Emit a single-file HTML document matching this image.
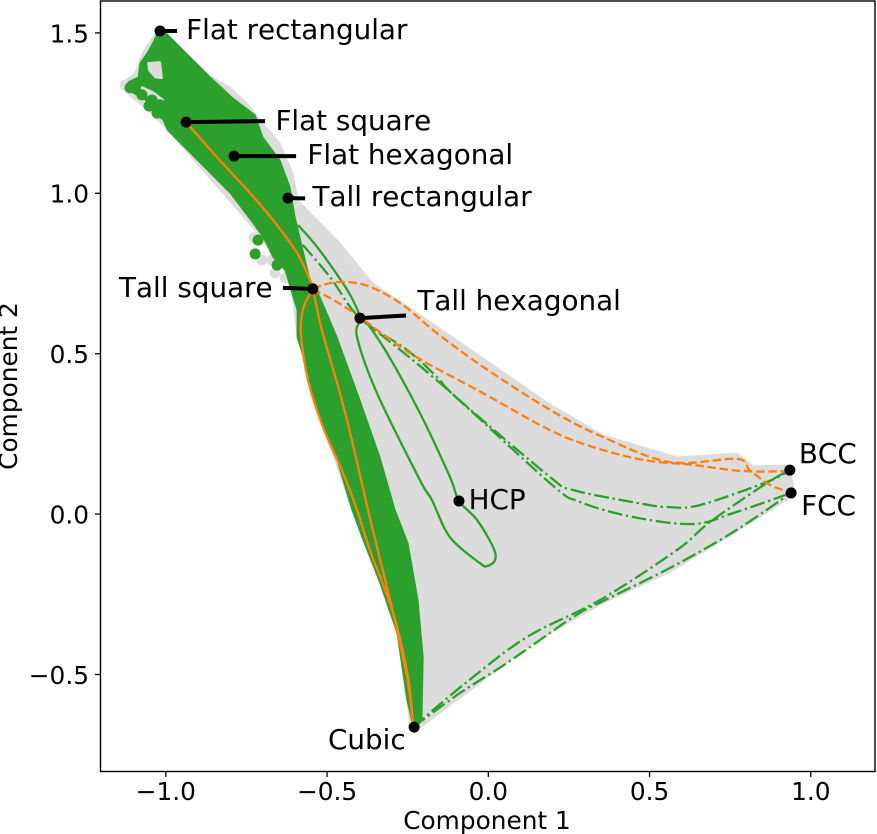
<!DOCTYPE html>
<html lang="en">
<head>
<meta charset="utf-8">
<title>Component chart</title>
<style>
html,body{margin:0;padding:0;background:#fff;}
svg{display:block;}
text{font-family:"DejaVu Sans","Liberation Sans",sans-serif;fill:#000;font-kerning:none;}
</style>
</head>
<body>
<svg id="chart" xmlns="http://www.w3.org/2000/svg" width="877" height="834" viewBox="0 0 877 834">
<rect x="0" y="0" width="877" height="834" fill="#fff"/>
<g id="plot"></g>
<rect x="100.5" y="1" width="774.5" height="770.5" fill="none" stroke="#000" stroke-width="1.4"/>
<g id="axes"></g>
<text x="487" y="829" font-size="24.8" text-anchor="middle">Component 1</text>
<text transform="translate(17,386) rotate(-90)" font-size="24.8" text-anchor="middle">Component 2</text>
</svg>
<script>
const xTicks = [-1.0, -0.5, 0.0, 0.5, 1.0];
const xTickLabels = ['\u22121.0', '\u22120.5', '0.0', '0.5', '1.0'];
const yTicks = [-0.5, 0.0, 0.5, 1.0, 1.5];
const yTickLabels = ['\u22120.5', '0.0', '0.5', '1.0', '1.5'];

const grayX = [-1.018,-0.863,-0.801,-0.749,-0.699,-0.646,-0.606,-0.590,-0.460,-0.358,-0.252,-0.016,0.191,0.356,0.585,0.771,0.821,0.935,0.951,0.759,0.563,0.356,0.139,-0.066,-0.212,-0.243,-0.283,-0.336,-0.423,-0.513,-0.593,-0.609,-0.646,-0.730,-0.995,-1.050,-1.096,-1.123,-1.133,-1.096,-1.071,-1.043];
const grayY = [1.515,1.366,1.331,1.282,1.219,1.157,1.063,0.979,0.845,0.720,0.649,0.487,0.343,0.247,0.178,0.190,0.150,0.153,0.060,-0.062,-0.181,-0.278,-0.402,-0.558,-0.667,-0.657,-0.371,-0.215,0.013,0.272,0.552,0.689,0.786,0.892,1.197,1.253,1.291,1.316,1.347,1.375,1.440,1.484];
const greenX = [-1.018,-0.863,-0.792,-0.723,-0.699,-0.646,-0.615,-0.599,-0.553,-0.522,-0.469,-0.398,-0.336,-0.289,-0.249,-0.218,-0.202,-0.206,-0.233,-0.252,-0.283,-0.336,-0.392,-0.423,-0.469,-0.513,-0.544,-0.568,-0.593,-0.593,-0.609,-0.630,-0.668,-0.699,-0.730,-0.801,-0.995,-1.008,-1.040,-1.064,-1.102,-1.120,-1.117,-1.086,-1.080,-1.058,-1.040];
const greenY = [1.519,1.363,1.297,1.244,1.175,1.103,1.020,0.926,0.730,0.677,0.552,0.356,0.178,0.013,-0.090,-0.268,-0.446,-0.642,-0.664,-0.580,-0.371,-0.215,-0.072,0.013,0.169,0.272,0.365,0.471,0.552,0.636,0.689,0.761,0.801,0.864,0.907,1.001,1.197,1.228,1.253,1.291,1.313,1.329,1.347,1.362,1.406,1.437,1.469];
const holeAX = [-1.055,-1.018,-1.012,-1.033,-1.052];
const holeAY = [1.406,1.409,1.359,1.362,1.384];
const holeBX = [-1.074,-1.040,-1.008,-1.018,-1.074];
const holeBY = [1.331,1.315,1.291,1.282,1.313];

const grayDotX = [-1.126,-0.726,-0.702,-0.671,-0.661,-0.630];
const grayDotY = [1.338,0.861,0.792,0.792,0.752,0.736];
const greenDotX = [-1.111,-1.074,-1.043,-1.052,-1.018,-1.027,-0.714,-0.723,-0.655];
const greenDotY = [1.329,1.307,1.291,1.272,1.276,1.250,0.854,0.811,0.776];

const orangeSolidAX = [-0.937,-0.847,-0.739,-0.668,-0.593,-0.553,-0.544,-0.516,-0.460,-0.423,-0.373,-0.345,-0.295,-0.252,-0.233];
const orangeSolidAY = [1.222,1.119,1.001,0.917,0.814,0.730,0.702,0.574,0.377,0.231,0.013,-0.103,-0.309,-0.508,-0.657];
const orangeSolidBX = [-0.544,-0.568,-0.578,-0.581,-0.559,-0.513,-0.454,-0.407,-0.367,-0.295,-0.249,-0.233];
const orangeSolidBY = [0.702,0.658,0.621,0.558,0.418,0.272,0.137,0.013,-0.112,-0.309,-0.508,-0.657];
const orangeDashAX = [-0.544,-0.491,-0.429,-0.358,-0.265,-0.159,-0.016,0.191,0.356,0.563,0.771,0.811,0.873,0.926,0.939];
const orangeDashAY = [0.702,0.720,0.723,0.705,0.652,0.564,0.459,0.325,0.240,0.162,0.172,0.137,0.091,0.072,0.066];
const orangeDashBX = [-0.544,-0.429,-0.243,-0.016,0.191,0.325,0.480,0.635,0.789,0.935];
const orangeDashBY = [0.702,0.636,0.502,0.377,0.262,0.209,0.169,0.153,0.134,0.134];
const greenSolidX = [-0.590,-0.531,-0.451,-0.420,-0.398,-0.407,-0.345,-0.212,-0.175,-0.119,-0.026,-0.004,0.021,0.015,-0.035,-0.091,-0.119,-0.212,-0.314,-0.376];
const greenSolidY = [0.901,0.833,0.720,0.667,0.611,0.552,0.377,0.106,0.044,-0.072,-0.153,-0.162,-0.143,-0.103,-0.018,0.041,0.116,0.315,0.502,0.596];
const greenDotDashAX = [-0.575,-0.491,-0.398,-0.252,-0.159,-0.097,0.191,0.263,0.461,0.554,0.656,0.864,0.935];
const greenDotDashAY = [0.839,0.739,0.611,0.512,0.427,0.362,0.116,0.075,0.035,0.022,0.028,0.100,0.137];
const greenDotDashBX = [-0.398,-0.150,0.191,0.284,0.449,0.635,0.759,0.939];
const greenDotDashBY = [0.611,0.409,0.097,0.038,-0.009,-0.031,0.003,0.066];
const greenDotDashCX = [-0.233,-0.066,0.120,0.346,0.585,0.687,0.864,0.935];
const greenDotDashCY = [-0.664,-0.523,-0.383,-0.268,-0.112,-0.025,0.097,0.137];
const greenDotDashDX = [-0.233,-0.088,0.058,0.263,0.362,0.563,0.759,0.939];
const greenDotDashDY = [-0.664,-0.558,-0.464,-0.321,-0.268,-0.168,-0.056,0.066];

const landmarkNames = ['Flat rectangular','Flat square','Flat hexagonal','Tall rectangular','Tall square','Tall hexagonal','HCP','BCC','FCC','Cubic'];
const landmarkX = [-1.018,-0.937,-0.788,-0.621,-0.544,-0.398,-0.091,0.935,0.939,-0.230];
const landmarkY = [1.506,1.222,1.116,0.985,0.702,0.611,0.041,0.137,0.066,-0.664];
const leaderX = [-0.965,-0.692,-0.596,-0.568,-0.637,-0.255,-0.091,0.935,0.939,-0.230];
const leaderY = [1.506,1.225,1.116,0.984,0.705,0.619,0.041,0.137,0.066,-0.664];
const labelX = [-0.937,-0.660,-0.561,-0.545,-1.145,-0.220,-0.061,0.963,0.970,-0.497];
const labelY = [1.481,1.197,1.091,0.960,0.677,0.636,0.016,0.159,-0.003,-0.733];

const NS = 'http://www.w3.org/2000/svg';
const sx = v => 488.3 + v * 322.5;
const sy = v => 514.1 - v * 320.8;
const plot = document.getElementById('plot');
const axes = document.getElementById('axes');
const pts = (xs, ys) => xs.map((x, i) => sx(x).toFixed(1) + ',' + sy(ys[i]).toFixed(1)).join(' ');

function smoothPath(xs, ys) {
  const p = xs.map((x, i) => [sx(x), sy(ys[i])]);
  let d = 'M' + p[0][0].toFixed(1) + ' ' + p[0][1].toFixed(1);
  for (let i = 0; i < p.length - 1; i++) {
    const a = p[Math.max(i - 1, 0)], b = p[i], c = p[i + 1], e = p[Math.min(i + 2, p.length - 1)];
    const c1x = b[0] + (c[0] - a[0]) / 6, c1y = b[1] + (c[1] - a[1]) / 6;
    const c2x = c[0] - (e[0] - b[0]) / 6, c2y = c[1] - (e[1] - b[1]) / 6;
    d += 'C' + c1x.toFixed(1) + ' ' + c1y.toFixed(1) + ' ' + c2x.toFixed(1) + ' ' + c2y.toFixed(1) + ' ' + c[0].toFixed(1) + ' ' + c[1].toFixed(1);
  }
  return d;
}

function addShape(tag, parent, attrs) {
  const el = document.createElementNS(NS, tag);
  for (const k in attrs) el.setAttribute(k, attrs[k]);
  parent.appendChild(el);
  return el;
}

let el;
el = addShape('polygon', plot, {points: pts(grayX, grayY), fill: '#dcdcdc', stroke: '#dcdcdc', 'stroke-width': 1, 'stroke-linejoin': 'round'});


grayDotX.forEach((x, i) => {
  const dot = addShape('circle', plot, {cx: sx(x), cy: sy(grayDotY[i]), r: 5.5, fill: '#dcdcdc'});
  
  
});
el = addShape('polygon', plot, {points: pts(greenX, greenY), fill: '#2ca02c', stroke: '#2ca02c', 'stroke-width': 1, 'stroke-linejoin': 'round'});


el = addShape('polygon', plot, {points: pts(holeAX, holeAY), fill: '#dcdcdc', stroke: '#dcdcdc', 'stroke-width': 2, 'stroke-linejoin': 'round'});


el = addShape('polygon', plot, {points: pts(holeBX, holeBY), fill: '#dcdcdc', stroke: '#dcdcdc', 'stroke-width': 2, 'stroke-linejoin': 'round'});


greenDotX.forEach((x, i) => {
  const dot = addShape('circle', plot, {cx: sx(x), cy: sy(greenDotY[i]), r: 5.5, fill: '#2ca02c'});
  
  
});

const DASH = '8.5 3.7';
const DOTDASH = '14.7 3.7 2.3 3.7';
function addLine(xs, ys, color, dash) {
  const attrs = {d: smoothPath(xs, ys), fill: 'none', stroke: color, 'stroke-width': 2.3, 'stroke-linejoin': 'round'};
  if (dash) attrs['stroke-dasharray'] = dash;
  return addShape('path', plot, attrs);
}
el = addLine(greenSolidX, greenSolidY, '#2ca02c');


el = addLine(greenDotDashAX, greenDotDashAY, '#2ca02c', DOTDASH);


el = addLine(greenDotDashBX, greenDotDashBY, '#2ca02c', DOTDASH);


el = addLine(greenDotDashCX, greenDotDashCY, '#2ca02c', DOTDASH);


el = addLine(greenDotDashDX, greenDotDashDY, '#2ca02c', DOTDASH);


el = addLine(orangeSolidAX, orangeSolidAY, '#ff7f0e');


el = addLine(orangeSolidBX, orangeSolidBY, '#ff7f0e');


el = addLine(orangeDashAX, orangeDashAY, '#ff7f0e', DASH);


el = addLine(orangeDashBX, orangeDashBY, '#ff7f0e', DASH);



landmarkNames.forEach((name, i) => {
  const leader = addShape('line', plot, {x1: sx(landmarkX[i]), y1: sy(landmarkY[i]), x2: sx(leaderX[i]), y2: sy(leaderY[i]), stroke: '#000', 'stroke-width': 4});
  
  
  const dot = addShape('circle', plot, {cx: sx(landmarkX[i]), cy: sy(landmarkY[i]), r: 5.5, fill: '#000'});
  
  
  const label = addShape('text', plot, {x: sx(labelX[i]), y: sy(labelY[i]), 'font-size': 27.8});
  label.textContent = name;
  
  
});

xTicks.forEach((t, i) => {
  const tick = addShape('line', axes, {x1: sx(t), y1: 771.5, x2: sx(t), y2: 777, stroke: '#000', 'stroke-width': 1.3});
  
  
  const label = addShape('text', axes, {x: sx(t), y: 800, 'font-size': 24.8, 'text-anchor': 'middle'});
  label.textContent = xTickLabels[i];
  
  
});
yTicks.forEach((t, i) => {
  const tick = addShape('line', axes, {x1: 95, y1: sy(t), x2: 100.5, y2: sy(t), stroke: '#000', 'stroke-width': 1.3});
  
  
  const label = addShape('text', axes, {x: 89, y: sy(t) + 9.4, 'font-size': 24.8, 'text-anchor': 'end'});
  label.textContent = yTickLabels[i];
  
  
});
</script>
</body>
</html>
